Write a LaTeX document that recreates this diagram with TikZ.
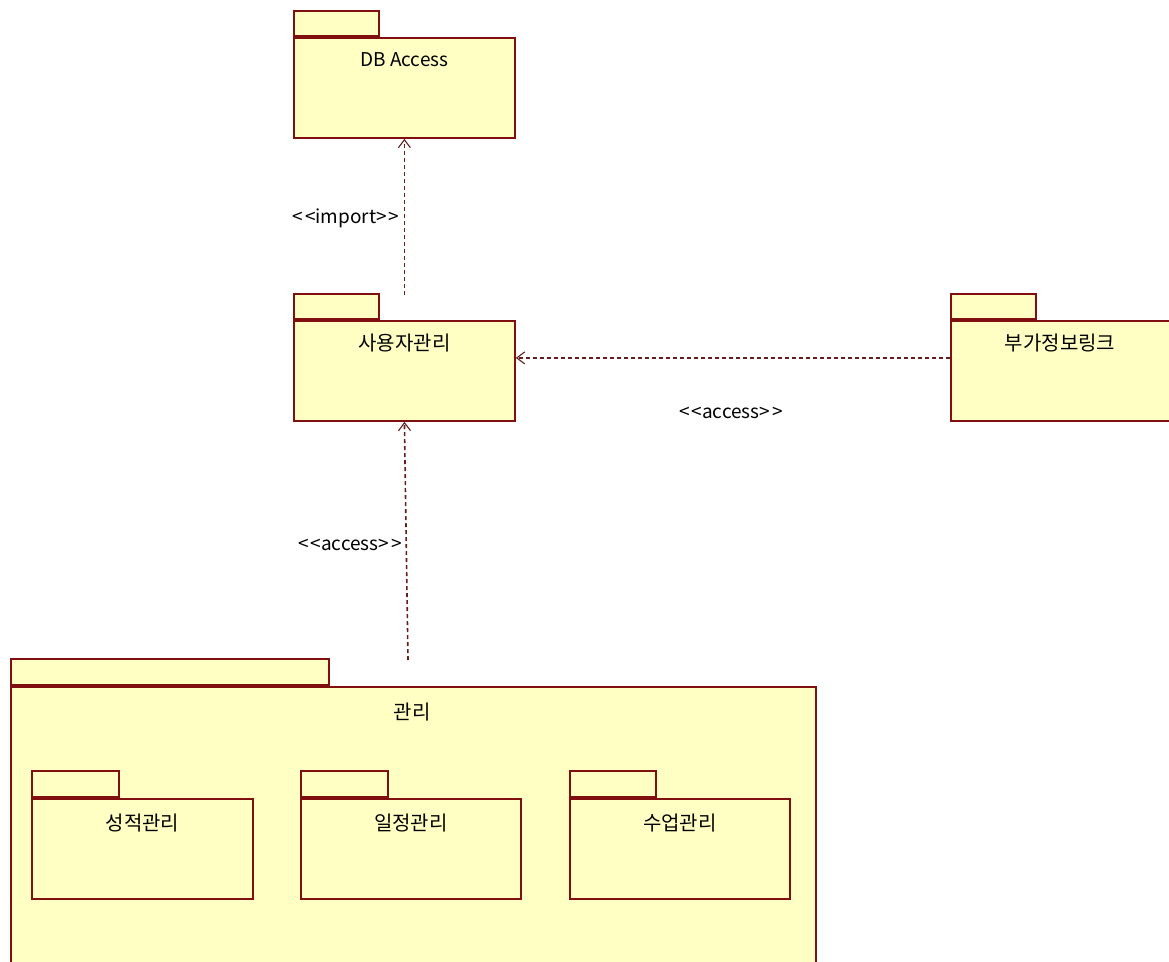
\documentclass[tikz,border=0pt]{standalone}
\usepackage{fontspec}
\setmainfont{Noto Sans CJK KR}
\usetikzlibrary{calc,arrows.meta}
\definecolor{pkgfill}{RGB}{255,255,196}
\definecolor{pkgline}{RGB}{128,16,16}
\definecolor{depline}{RGB}{100,30,30}
\tikzset{
  pkgbody/.style={draw=pkgline, fill=pkgfill, line width=1.8pt, rectangle, inner sep=0pt, anchor=north west},
  pkgtab/.style={draw=pkgline, fill=pkgfill, line width=1.8pt, rectangle, inner sep=0pt, anchor=south west, minimum height=25},
  pkgname/.style={font=\fontsize{19}{22}\selectfont, text=black, inner sep=0pt},
  krname/.style={font=\fontsize{20}{23}\selectfont, text=black, inner sep=0pt},
  deplabel/.style={font=\fontsize{19}{22}\selectfont, text=black, inner sep=0pt},
  dep/.style={draw=depline, line width=1.6pt, dash pattern=on 4pt off 3pt, -{Straight Barb[length=8pt,width=12pt,line width=1.1pt]}}
}
\newcommand{\stereo}[1]{{<}\kern2pt{<}#1{>}\kern2pt{>}}
\begin{document}
\begin{tikzpicture}[x=1pt,y=-1pt]
\useasboundingbox[fill=white] (0,0) rectangle (1169,961);
\begin{scope}
\clip (0,0) rectangle (1169,961);
% DB Access
\node[pkgbody, minimum width=221, minimum height=100] (db) at (293,37) {};
\node[pkgtab, minimum width=85] (dbtab) at (db.north west) {};
\node[pkgname] (dbname) at ($(db.north)+(0,23)$) {DB Access};
% user management
\node[pkgbody, minimum width=221, minimum height=100] (user) at (293,320) {};
\node[pkgtab, minimum width=85] (usertab) at (user.north west) {};
\node[krname] (username) at ($(user.north)+(0,23)$) {사용자관리};
% additional info link
\node[pkgbody, minimum width=240, minimum height=100] (link) at (950,320) {};
\node[pkgtab, minimum width=85] (linktab) at (link.north west) {};
\node[krname] (linkname) at (1060,343) {부가정보링크};
% management (container)
\node[pkgbody, minimum width=805, minimum height=290] (mgmt) at (10,686) {};
\node[pkgtab, minimum width=318, minimum height=26] (mgmttab) at (mgmt.north west) {};
\node[krname] (mgmtname) at (412,712) {관리};
% inner packages
\node[pkgbody, minimum width=221, minimum height=100] (grade) at (31,798) {};
\node[pkgtab, minimum width=87, minimum height=26] (gradetab) at (grade.north west) {};
\node[krname] (gradename) at ($(grade.north)+(0,25)$) {성적관리};
\node[pkgbody, minimum width=220, minimum height=100] (sched) at (300,798) {};
\node[pkgtab, minimum width=87, minimum height=26] (schedtab) at (sched.north west) {};
\node[krname] (schedname) at ($(sched.north)+(0,25)$) {일정관리};
\node[pkgbody, minimum width=220, minimum height=100] (class) at (569,798) {};
\node[pkgtab, minimum width=86, minimum height=26] (classtab) at (class.north west) {};
\node[krname] (classname) at ($(class.north)+(0,25)$) {수업관리};
\end{scope}
% dependencies
\coordinate (userimp) at ($(user.north)+(0,-25)$);
\draw[dep] (userimp) -- (db.south);
\node[deplabel] (implabel) at (346,218) {\stereo{import}};
\draw[dep] ($(link.west)+(0,-13)$) -- ($(user.east)+(0,-13)$);
\node[deplabel] (acclabel1) at (731,413) {\stereo{access}};
\coordinate (mgmtacc) at (408,660);
\draw[dep] (mgmtacc) -- (user.south);
\node[deplabel] (acclabel2) at (350,545) {\stereo{access}};
\end{tikzpicture}
\end{document}
